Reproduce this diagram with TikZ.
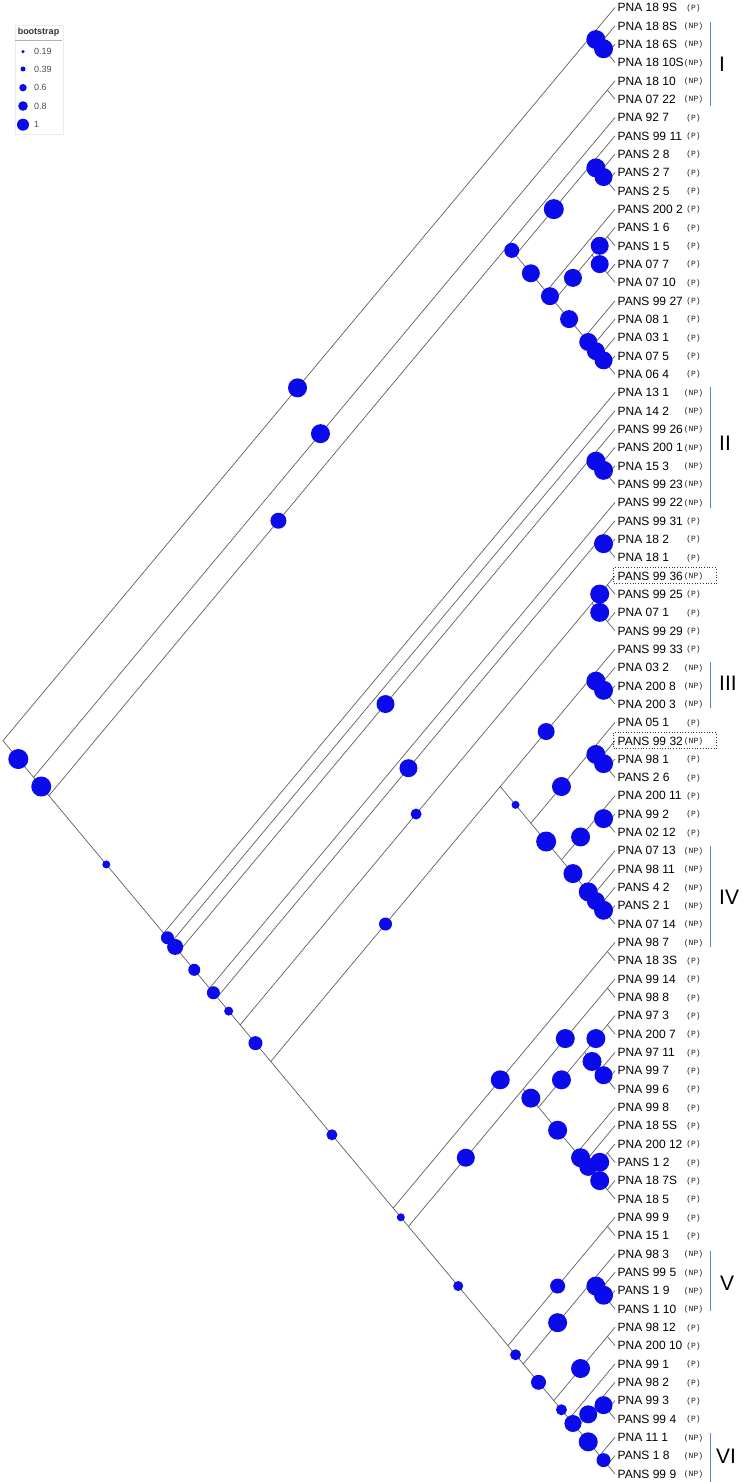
\documentclass[tikz,border=0pt]{standalone}
\usepackage{fontspec}
\setmainfont{Liberation Sans}
\newfontfamily\tagfont{Liberation Mono}
\definecolor{bootblue}{RGB}{10,10,235}
\definecolor{barblue}{RGB}{90,130,205}
\definecolor{branchgray}{RGB}{95,95,95}
\definecolor{boxnavy}{RGB}{40,50,90}
% clades as first/last/cut: children are first..cut and cut+1..last
\newcommand\cladelist{1/81/4, 1/4/1, 2/4/2, 3/4/3, 5/81/6, 5/6/5, 7/81/21, 7/21/7,
  8/21/11, 8/11/8, 9/11/9, 10/11/10, 12/21/12, 13/21/16, 13/16/14, 13/14/13,
  15/16/15, 17/21/17, 18/21/18, 19/21/19, 20/21/20, 22/81/22, 23/81/23, 24/81/27,
  24/27/24, 25/27/25, 26/27/26, 28/81/28, 29/81/31, 29/31/29, 30/31/30, 32/81/35,
  32/35/33, 32/33/32, 34/35/34, 36/81/51, 36/51/39, 36/39/36, 37/39/37, 38/39/38,
  40/51/43, 40/43/40, 41/43/41, 42/43/42, 44/51/46, 44/46/44, 45/46/45, 47/51/47,
  48/51/48, 49/51/49, 50/51/50, 52/81/53, 52/53/52, 54/81/66, 54/66/55, 54/55/54,
  56/66/60, 56/60/57, 56/57/56, 58/60/58, 59/60/59, 61/66/61, 62/66/62, 63/66/64,
  63/64/63, 65/66/65, 67/81/68, 67/68/67, 69/81/72, 69/72/69, 70/72/70, 71/72/71,
  73/81/74, 73/74/73, 75/81/75, 76/81/78, 76/78/76, 77/78/77, 79/81/79, 80/81/80}
\begin{document}
\begin{tikzpicture}[x=1pt,y=-1pt,
  branch/.style={draw=branchgray, line width=0.7pt},
  boot/.style={circle, fill=bootblue, inner sep=0pt, minimum size=#1*2pt},
  tiplabel/.style={anchor=base west, inner sep=0pt, font=\fontsize{12}{12}\selectfont},
  tagtext/.style={anchor=base, inner sep=0pt, text=black!90, font=\tagfont\fontsize{8}{8}\selectfont},
  groupbar/.style={draw=barblue, line width=1pt},
  grouplabel/.style={anchor=west, inner sep=0pt, font=\fontsize{21}{21}\selectfont},
  dotbox/.style={draw=boxnavy, dotted, line width=0.7pt},
  legtext/.style={anchor=west, inner sep=0pt, text=black!70, font=\fontsize{9}{9}\selectfont}]
\useasboundingbox (0,0) rectangle (743,1482);

% tips and clades
\foreach \i in {1,...,81}
  \coordinate (n\i-\i) at (615,{7.5+(\i-1)*18.33});
\foreach \lo/\hi/\cut in \cladelist
  \coordinate (n\lo-\hi) at ({615-(\hi-\lo)*7.65},{7.5+((\lo+\hi)/2-1)*18.33});

% branches
\foreach \lo/\hi/\cut in \cladelist {
  \pgfmathtruncatemacro\nxt{\cut+1}
  \draw[branch] (n\lo-\cut) -- (n\lo-\hi) -- (n\nxt-\hi);
}

% bootstrap circles, midway on the branch
\foreach \pa/\ch/\rad in {1-81/1-4/9.5, 1-4/2-4/9.5, 2-4/3-4/9.5, 1-81/5-81/10,
  5-81/5-6/9.5, 5-81/7-81/10, 7-81/7-21/8, 7-81/22-81/4, 7-21/8-21/7.5,
  8-21/8-11/10, 8-21/12-21/9, 8-11/9-11/9.5, 9-11/10-11/9, 12-21/13-21/9,
  13-21/13-16/9, 13-21/17-21/9, 13-16/13-14/9, 13-16/15-16/9, 17-21/18-21/9,
  18-21/19-21/9, 19-21/20-21/9, 22-81/23-81/6.5, 23-81/24-81/8, 24-81/24-27/9,
  24-81/28-81/6, 24-27/25-27/9.5, 25-27/26-27/9.5, 28-81/29-81/6.5,
  29-81/29-31/9, 29-81/32-81/4.5, 29-31/30-31/9.5, 32-81/32-35/5.5,
  32-81/36-81/7, 32-35/32-33/9.5, 32-35/34-35/9.5, 36-81/36-51/6.5,
  36-81/52-81/5.5, 36-51/36-39/8.5, 36-51/40-51/4, 36-39/37-39/9.5,
  37-39/38-39/9.5, 40-51/40-43/9.5, 40-51/44-51/10, 40-43/41-43/9.5,
  41-43/42-43/9.5, 44-51/44-46/9.5, 44-51/47-51/9.5, 44-46/45-46/9.5,
  47-51/48-51/9.5, 48-51/49-51/9, 49-51/50-51/9.5, 52-81/52-53/9.5,
  52-81/54-81/4, 54-81/54-66/9, 54-81/67-81/5, 54-66/54-55/9.5,
  54-66/56-66/9.5, 56-66/56-60/9.5, 56-66/61-66/9.5, 56-60/56-57/9.5,
  56-60/58-60/9.5, 58-60/59-60/9, 61-66/62-66/9.5, 62-66/63-66/9,
  63-66/63-64/9.5, 63-66/65-66/9.5, 67-81/67-68/7.5, 67-81/69-81/5.5,
  69-81/69-72/9.5, 69-81/73-81/7.5, 69-72/70-72/9.5, 70-72/71-72/9.5,
  73-81/73-74/9.5, 73-81/75-81/5.5, 75-81/76-81/8.5, 76-81/76-78/9,
  76-81/79-81/9.5, 76-78/77-78/9, 79-81/80-81/7}
  \path (n\pa) -- node[boot=\rad] (b\ch) {} (n\ch);

% tip labels
\foreach \i/\lbl/\st in {1/PNA 18 9S/P, 2/PNA 18 8S/NP, 3/PNA 18 6S/NP,
  4/PNA 18 10S/NP, 5/PNA 18 10/NP, 6/PNA 07 22/NP, 7/PNA 92 7/P, 8/PANS 99 11/P,
  9/PANS 2 8/P, 10/PANS 2 7/P, 11/PANS 2 5/P, 12/PANS 200 2/P, 13/PANS 1 6/P,
  14/PANS 1 5/P, 15/PNA 07 7/P, 16/PNA 07 10/P, 17/PANS 99 27/P, 18/PNA 08 1/P,
  19/PNA 03 1/P, 20/PNA 07 5/P, 21/PNA 06 4/P, 22/PNA 13 1/NP, 23/PNA 14 2/NP,
  24/PANS 99 26/NP, 25/PANS 200 1/NP, 26/PNA 15 3/NP, 27/PANS 99 23/NP,
  28/PANS 99 22/NP, 29/PANS 99 31/P, 30/PNA 18 2/P, 31/PNA 18 1/P,
  32/PANS 99 36/NP, 33/PANS 99 25/P, 34/PNA 07 1/P, 35/PANS 99 29/P,
  36/PANS 99 33/P, 37/PNA 03 2/NP, 38/PNA 200 8/NP, 39/PNA 200 3/NP,
  40/PNA 05 1/P, 41/PANS 99 32/NP, 42/PNA 98 1/P, 43/PANS 2 6/P,
  44/PNA 200 11/P, 45/PNA 99 2/P, 46/PNA 02 12/P, 47/PNA 07 13/NP,
  48/PNA 98 11/NP, 49/PANS 4 2/NP, 50/PANS 2 1/NP, 51/PNA 07 14/NP,
  52/PNA 98 7/NP, 53/PNA 18 3S/P, 54/PNA 99 14/P, 55/PNA 98 8/P, 56/PNA 97 3/P,
  57/PNA 200 7/P, 58/PNA 97 11/P, 59/PNA 99 7/P, 60/PNA 99 6/P, 61/PNA 99 8/P,
  62/PNA 18 5S/P, 63/PNA 200 12/P, 64/PANS 1 2/P, 65/PNA 18 7S/P, 66/PNA 18 5/P,
  67/PNA 99 9/P, 68/PNA 15 1/P, 69/PNA 98 3/NP, 70/PANS 99 5/NP, 71/PANS 1 9/NP,
  72/PANS 1 10/NP, 73/PNA 98 12/P, 74/PNA 200 10/P, 75/PNA 99 1/P, 76/PNA 98 2/P,
  77/PNA 99 3/P, 78/PANS 99 4/P, 79/PNA 11 1/NP, 80/PANS 1 8/NP, 81/PANS 99 9/NP}
{
  \node[tiplabel] (lab\i) at ([xshift=2.5pt,yshift=-4.3pt]n\i-\i) {\lbl};
  \node[tagtext] (tag\i) at ([xshift=78.5pt,yshift=-2.8pt]n\i-\i) {(\st)};
}

% dotted boxes
\draw[dotbox] (613.5,567.7) rectangle (716,583.7);
\draw[dotbox] (613.5,732.7) rectangle (716,748.7);

% groups
\draw[groupbar] (710,22) -- (710,106);
\draw[groupbar] (710,387) -- (710,508);
\draw[groupbar] (710,662) -- (710,708);
\draw[groupbar] (710,846) -- (710,947);
\draw[groupbar] (710,1251) -- (710,1311);
\draw[groupbar] (710,1433) -- (710,1482);
\node[grouplabel] (gI) at (719,64) {I};
\node[grouplabel] (gII) at (719,443) {II};
\node[grouplabel] (gIII) at (719,683) {III};
\node[grouplabel] (gIV) at (719,897) {IV};
\node[grouplabel] (gV) at (720,1283) {V};
\node[grouplabel] (gVI) at (716,1456) {VI};

% legend
\draw[black!8] (15,25) rectangle (63,134);
\node[inner sep=0pt, text=black!80, font=\bfseries\fontsize{9}{9}\selectfont] (legtitle) at (38.5,32) {bootstrap};
\draw[black!30, line width=1pt] (15,41) -- (62,41);
\foreach \y/\rad/\v in {51.7/1.7/0.19, 69/2.5/0.39, 87.7/3.7/0.6, 106/4.8/0.8, 124.7/6/1}
{
  \node[boot=\rad] (leg\v) at (23,\y) {};
  \node[legtext] (legt\v) at (34,\y) {\v};
}
\end{tikzpicture}
\end{document}
